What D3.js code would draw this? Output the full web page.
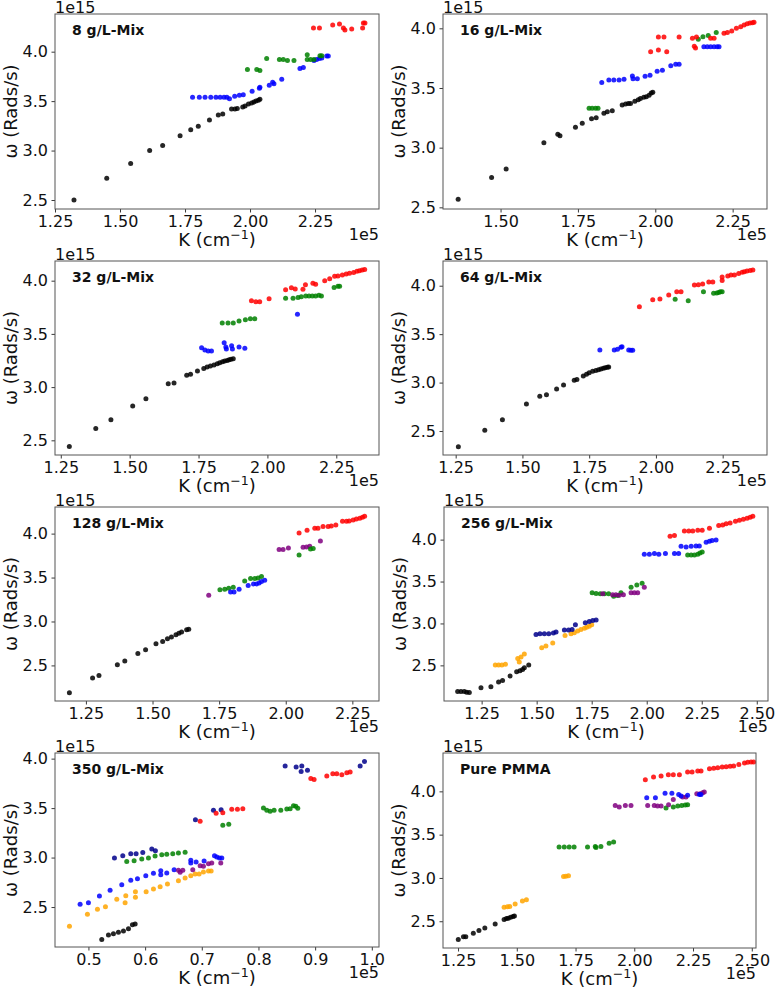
<!DOCTYPE html>
<html>
<head>
<meta charset="utf-8">
<script src="https://cdn.jsdelivr.net/npm/d3@7"></script>
<style>
  body { margin: 0; background: #fff; }
  svg { font-family: "DejaVu Sans", sans-serif; }
</style>
</head>
<body>
<div id="container"></div>
<script>
// K in units of 1e5 cm^-1, omega in units of 1e15 rad/s
const mix8Black = [[1.323,2.50],[1.449,2.72],[1.541,2.87],[1.614,3.00],[1.664,3.05],[1.731,3.15],[1.772,3.21],[1.801,3.245],[1.844,3.31],[1.878,3.36],[1.895,3.37],[1.929,3.42],[1.942,3.42],[1.951,3.425],[1.972,3.44],[1.981,3.45],[1.994,3.47],[2.006,3.48],[2.015,3.49],[2.023,3.50],[2.032,3.51],[2.038,3.52]];
const mix8Blue = [[1.779,3.538],[1.805,3.538],[1.827,3.538],[1.849,3.538],[1.869,3.538],[1.885,3.538],[1.900,3.538],[1.911,3.538],[1.921,3.525],[1.941,3.55],[1.959,3.56],[1.974,3.565],[2.008,3.60],[2.036,3.63],[2.038,3.64],[2.074,3.66],[2.087,3.69],[2.092,3.675],[2.122,3.72],[2.192,3.83],[2.205,3.84],[2.246,3.91],[2.256,3.92],[2.267,3.93],[2.276,3.935],[2.295,3.956],[2.301,3.956]];
const mix8Green = [[1.990,3.82],[2.026,3.82],[2.038,3.81],[2.064,3.93],[2.113,3.92],[2.128,3.92],[2.144,3.91],[2.169,3.91],[2.220,3.97],[2.220,3.92],[2.233,3.92],[2.246,3.92],[2.269,3.96],[2.276,3.96]];
const mix8Red = [[2.244,4.24],[2.267,4.24],[2.318,4.27],[2.344,4.28],[2.359,4.24],[2.365,4.22],[2.391,4.23],[2.433,4.24],[2.436,4.29],[2.442,4.29]];

const mix16Black = [[1.363,2.567],[1.471,2.751],[1.518,2.821],[1.640,3.042],[1.685,3.112],[1.692,3.100],[1.742,3.170],[1.764,3.204],[1.794,3.243],[1.809,3.251],[1.834,3.288],[1.845,3.300],[1.861,3.310],[1.893,3.358],[1.904,3.366],[1.913,3.369],[1.920,3.369],[1.934,3.388],[1.945,3.402],[1.952,3.411],[1.963,3.422],[1.971,3.427],[1.980,3.439],[1.987,3.458],[1.992,3.464]];
const mix16Green = [[1.786,3.33],[1.796,3.33],[1.807,3.33],[1.815,3.33],[2.139,3.908],[2.154,3.930],[2.171,3.939],[2.197,3.966]];
const mix16Blue = [[1.827,3.547],[1.850,3.567],[1.866,3.567],[1.883,3.567],[1.899,3.573],[1.926,3.600],[1.928,3.578],[1.942,3.578],[1.967,3.598],[1.983,3.606],[2.006,3.640],[2.023,3.648],[2.050,3.687],[2.066,3.698],[2.077,3.698],[2.157,3.846],[2.168,3.846],[2.179,3.846],[2.190,3.846],[2.200,3.846],[2.206,3.846]];
const mix16Red = [[1.985,3.804],[2.010,3.818],[2.037,3.804],[2.010,3.927],[2.028,3.927],[2.077,3.927],[2.120,3.916],[2.133,3.927],[2.126,3.850],[2.130,3.835],[2.179,3.916],[2.190,3.916],[2.222,3.958],[2.233,3.966],[2.247,3.978],[2.262,4.000],[2.276,4.014],[2.287,4.028],[2.297,4.039],[2.306,4.045],[2.314,4.047],[2.319,4.050]];

const mix32Black = [[1.281,2.443],[1.377,2.610],[1.432,2.694],[1.511,2.822],[1.559,2.891],[1.640,3.032],[1.661,3.039],[1.707,3.111],[1.721,3.120],[1.746,3.151],[1.769,3.176],[1.781,3.189],[1.793,3.198],[1.806,3.208],[1.818,3.220],[1.827,3.230],[1.837,3.239],[1.845,3.245],[1.854,3.251],[1.861,3.258],[1.868,3.261],[1.876,3.267]];
const mix32Blue = [[1.761,3.370],[1.773,3.349],[1.785,3.339],[1.797,3.339],[1.843,3.417],[1.849,3.377],[1.851,3.358],[1.870,3.389],[1.873,3.358],[1.897,3.377],[1.918,3.364],[2.109,3.684]];
const mix32Green = [[1.836,3.602],[1.857,3.602],[1.876,3.602],[1.897,3.621],[1.920,3.634],[1.938,3.643],[1.954,3.643],[2.066,3.834],[2.093,3.834],[2.111,3.843],[2.123,3.850],[2.139,3.856],[2.151,3.856],[2.163,3.856],[2.175,3.856],[2.187,3.862],[2.196,3.856],[2.242,3.937],[2.256,3.947],[2.262,3.947]];
const mix32Red = [[1.942,3.812],[1.958,3.803],[1.972,3.803],[2.006,3.831],[2.066,3.915],[2.087,3.934],[2.101,3.922],[2.129,3.919],[2.138,3.962],[2.165,3.975],[2.175,3.966],[2.208,4.000],[2.226,4.019],[2.244,4.041],[2.256,4.044],[2.272,4.053],[2.286,4.063],[2.298,4.069],[2.313,4.078],[2.325,4.088],[2.334,4.094],[2.344,4.100],[2.353,4.106]];

const mix64Black = [[1.260,2.338],[1.359,2.507],[1.425,2.617],[1.515,2.779],[1.565,2.858],[1.590,2.875],[1.628,2.934],[1.654,2.975],[1.694,3.023],[1.704,3.033],[1.728,3.068],[1.740,3.085],[1.750,3.102],[1.763,3.116],[1.775,3.126],[1.785,3.133],[1.794,3.140],[1.803,3.147],[1.810,3.154],[1.818,3.157],[1.823,3.161]];
const mix64Blue = [[1.790,3.336],[1.844,3.336],[1.856,3.343],[1.869,3.364],[1.873,3.370],[1.898,3.336],[1.906,3.333],[1.913,3.333]];
const mix64Red = [[1.938,3.783],[1.988,3.856],[2.015,3.862],[2.048,3.904],[2.078,3.938],[2.094,3.938],[2.144,4.007],[2.159,4.010],[2.175,4.017],[2.198,4.038],[2.213,4.038],[2.248,4.089],[2.248,4.055],[2.269,4.100],[2.281,4.110],[2.294,4.110],[2.310,4.127],[2.323,4.138],[2.331,4.144],[2.341,4.151],[2.353,4.158],[2.363,4.162]];
const mix64Green = [[2.072,3.859],[2.121,3.845],[2.178,3.938],[2.216,3.921],[2.228,3.924],[2.235,3.931],[2.241,3.938],[2.248,3.938]];

const mix128Black = [[1.188,2.189],[1.275,2.356],[1.299,2.386],[1.368,2.508],[1.396,2.549],[1.445,2.636],[1.474,2.678],[1.513,2.746],[1.538,2.773],[1.556,2.803],[1.571,2.822],[1.588,2.848],[1.599,2.867],[1.609,2.879],[1.628,2.905],[1.636,2.913]];
const mix128Purple = [[1.711,3.299],[1.975,3.818],[1.990,3.818],[2.010,3.837],[2.065,3.845],[2.078,3.848],[2.090,3.856],[2.130,3.917]];
const mix128Green = [[1.753,3.360],[1.771,3.367],[1.786,3.379],[1.803,3.390],[1.846,3.462],[1.868,3.489],[1.884,3.489],[1.896,3.496],[1.909,3.511],[2.050,3.758],[2.093,3.826],[2.103,3.830]];
const mix128Blue = [[1.793,3.337],[1.806,3.337],[1.825,3.367],[1.859,3.409],[1.879,3.428],[1.890,3.428],[1.900,3.439],[1.909,3.455],[1.921,3.470]];
const mix128Red = [[2.050,4.008],[2.080,4.038],[2.109,4.061],[2.121,4.061],[2.140,4.080],[2.159,4.080],[2.171,4.087],[2.188,4.098],[2.213,4.140],[2.228,4.140],[2.238,4.144],[2.253,4.155],[2.265,4.167],[2.278,4.174],[2.288,4.186],[2.296,4.197]];

const mix256Black = [[1.141,2.187],[1.156,2.187],[1.171,2.187],[1.182,2.179],[1.194,2.175],[1.247,2.234],[1.292,2.246],[1.327,2.302],[1.345,2.321],[1.379,2.373],[1.409,2.425],[1.424,2.437],[1.436,2.452],[1.444,2.472],[1.464,2.504]];
const mix256Orange = [[1.312,2.504],[1.327,2.504],[1.342,2.504],[1.358,2.512],[1.414,2.583],[1.429,2.599],[1.421,2.540],[1.444,2.635],[1.523,2.710],[1.542,2.730],[1.573,2.766],[1.629,2.857],[1.656,2.877],[1.671,2.889],[1.686,2.909],[1.701,2.929],[1.717,2.944],[1.727,2.956],[1.739,2.968],[1.750,2.984]];
const mix256Navy = [[1.497,2.869],[1.515,2.877],[1.535,2.877],[1.555,2.877],[1.576,2.885],[1.588,2.897],[1.626,2.921],[1.645,2.921],[1.661,2.929],[1.676,2.984],[1.721,3.008],[1.739,3.024],[1.755,3.036],[1.770,3.040]];
const mix256Green = [[1.752,3.365],[1.770,3.357],[1.789,3.353],[1.808,3.353],[1.827,3.353],[1.850,3.325],[1.868,3.333],[1.883,3.365],[1.929,3.433],[1.955,3.460],[1.979,3.480],[2.186,3.817],[2.202,3.817],[2.217,3.817],[2.232,3.825],[2.242,3.841],[2.252,3.853]];
const mix256Purple = [[1.800,3.353],[1.845,3.341],[1.860,3.341],[1.875,3.337],[1.894,3.341],[1.929,3.365],[1.944,3.365],[1.959,3.365],[1.989,3.433]];
const mix256Blue = [[1.989,3.825],[2.012,3.825],[2.035,3.833],[2.055,3.825],[2.085,3.833],[2.126,3.833],[2.145,3.833],[2.156,3.921],[2.179,3.913],[2.202,3.921],[2.224,3.925],[2.239,3.925],[2.270,3.968],[2.285,3.980],[2.297,3.988],[2.315,3.996]];
const mix256Red = [[2.106,4.040],[2.126,4.048],[2.171,4.103],[2.191,4.103],[2.209,4.103],[2.232,4.111],[2.252,4.111],[2.285,4.135],[2.327,4.167],[2.345,4.175],[2.361,4.190],[2.379,4.198],[2.403,4.218],[2.421,4.230],[2.439,4.242],[2.456,4.254],[2.470,4.266],[2.482,4.278]];

const mix350Black = [[0.5235,2.173],[0.5353,2.217],[0.5441,2.231],[0.5529,2.244],[0.5618,2.258],[0.5706,2.281],[0.5776,2.322],[0.5824,2.328]];
const mix350Orange = [[0.4665,2.305],[0.4982,2.426],[0.5159,2.477],[0.5300,2.504],[0.5500,2.578],[0.5659,2.615],[0.5647,2.544],[0.5829,2.655],[0.5829,2.598],[0.6018,2.655],[0.6147,2.682],[0.6265,2.706],[0.6394,2.733],[0.6588,2.766],[0.6706,2.793],[0.6806,2.817],[0.6882,2.834],[0.6953,2.834],[0.7029,2.854],[0.7118,2.864],[0.7165,2.864]];
const mix350Blue = [[0.4853,2.527],[0.5000,2.544],[0.5194,2.611],[0.5382,2.669],[0.5588,2.726],[0.5747,2.770],[0.5865,2.787],[0.6012,2.817],[0.6147,2.841],[0.6276,2.868],[0.6276,2.827],[0.6382,2.844],[0.6512,2.878],[0.6806,2.945],[0.6806,2.972],[0.6900,2.955],[0.7041,2.965],[0.7224,3.019],[0.7265,3.006],[0.7312,2.996],[0.7353,2.996]];
const mix350Navy = [[0.5459,2.996],[0.5606,3.019],[0.5747,3.039],[0.5841,3.039],[0.5959,3.050],[0.6118,3.087],[0.6182,3.070],[0.6888,3.383],[0.7206,3.478],[0.7341,3.484],[0.8471,3.926],[0.8665,3.916],[0.8765,3.926],[0.8753,3.869],[0.8865,3.882],[0.9794,3.926],[0.9871,3.970]];
const mix350Green = [[0.5676,2.959],[0.5806,2.969],[0.5941,2.986],[0.6059,2.996],[0.6176,3.016],[0.6294,3.029],[0.6382,3.033],[0.6488,3.039],[0.6588,3.046],[0.6706,3.053],[0.7371,3.326],[0.7476,3.336],[0.8088,3.501],[0.8147,3.478],[0.8206,3.468],[0.8276,3.478],[0.8394,3.478],[0.8500,3.491],[0.8559,3.494],[0.8618,3.525],[0.8659,3.518],[0.8694,3.498]];
const mix350Red = [[0.6971,3.366],[0.7253,3.447],[0.7371,3.454],[0.7529,3.488],[0.7629,3.488],[0.7724,3.494],[0.8924,3.798],[0.8982,3.788],[0.9206,3.825],[0.9312,3.848],[0.9382,3.848],[0.9471,3.838],[0.9559,3.858],[0.9618,3.865]];
const mix350Purple = [[0.6588,2.871],[0.6618,2.851],[0.6665,2.871],[0.6841,2.878],[0.6971,2.918],[0.7029,2.911],[0.7118,2.938],[0.7176,2.945],[0.7335,2.945]];

const pmmaBlack = [[1.251,2.288],[1.273,2.322],[1.283,2.322],[1.315,2.361],[1.339,2.392],[1.364,2.423],[1.408,2.469],[1.446,2.519],[1.456,2.531],[1.464,2.535],[1.474,2.546],[1.484,2.554],[1.490,2.562]];
const pmmaOrange = [[1.446,2.662],[1.460,2.666],[1.470,2.669],[1.493,2.700],[1.524,2.735],[1.541,2.747],[1.699,3.017],[1.709,3.020],[1.720,3.024]];
const pmmaGreen = [[1.680,3.356],[1.702,3.356],[1.723,3.356],[1.744,3.356],[1.801,3.356],[1.834,3.364],[1.837,3.352],[1.858,3.364],[1.893,3.402],[1.912,3.414],[2.135,3.807],[2.166,3.819],[2.185,3.830],[2.202,3.838],[2.217,3.842],[2.227,3.846]];
const pmmaPurple = [[1.919,3.838],[1.936,3.819],[1.962,3.838],[1.986,3.838],[2.057,3.838],[2.085,3.838],[2.099,3.830],[2.114,3.830],[2.146,3.846],[2.166,3.907],[2.206,3.934],[2.220,3.934],[2.266,3.973],[2.280,3.973],[2.291,3.985],[2.298,3.992]];
const pmmaBlue = [[2.053,3.927],[2.090,3.927],[2.131,3.977],[2.160,3.977],[2.189,3.965],[2.199,3.946],[2.227,3.954],[2.277,3.965],[2.284,3.965]];
const pmmaRed = [[2.047,4.135],[2.082,4.166],[2.114,4.177],[2.145,4.193],[2.166,4.193],[2.192,4.193],[2.227,4.224],[2.246,4.224],[2.270,4.235],[2.284,4.235],[2.320,4.262],[2.338,4.266],[2.355,4.274],[2.374,4.282],[2.391,4.285],[2.408,4.289],[2.423,4.293],[2.445,4.309],[2.469,4.328],[2.483,4.336],[2.497,4.339],[2.508,4.339]];

const titles = ['8 g/L-Mix', '16 g/L-Mix', '32 g/L-Mix', '64 g/L-Mix', '128 g/L-Mix', '256 g/L-Mix', '350 g/L-Mix', 'Pure PMMA'];
const xLimits = [[1.25,2.496],[1.314,2.361],[1.229,2.405],[1.2025,2.416],[1.134,2.35],[1.079,2.551],[0.441,1.0127],[1.186,2.518]];
const yLimits = [[2.409,4.381],[2.486,4.12],[2.362,4.185],[2.2525,4.255],[2.095,4.303],[2.075,4.389],[2.096,4.057],[2.191,4.443]];
const xTickStep = [0.25, 0.25, 0.25, 0.25, 0.25, 0.25, 0.1, 0.25];

const colors = {
    black: '#000000', blue: '#0000ff', green: '#008000', red: '#ff0000',
    purple: '#800080', orange: '#ffa500', navy: '#00008b'
};

const panelSeries = [
    [['black', mix8Black], ['blue', mix8Blue], ['green', mix8Green], ['red', mix8Red]],
    [['black', mix16Black], ['green', mix16Green], ['blue', mix16Blue], ['red', mix16Red]],
    [['black', mix32Black], ['blue', mix32Blue], ['green', mix32Green], ['red', mix32Red]],
    [['black', mix64Black], ['blue', mix64Blue], ['red', mix64Red], ['green', mix64Green]],
    [['black', mix128Black], ['purple', mix128Purple], ['green', mix128Green], ['blue', mix128Blue], ['red', mix128Red]],
    [['black', mix256Black], ['orange', mix256Orange], ['navy', mix256Navy], ['green', mix256Green], ['purple', mix256Purple], ['blue', mix256Blue], ['red', mix256Red]],
    [['black', mix350Black], ['orange', mix350Orange], ['blue', mix350Blue], ['navy', mix350Navy], ['green', mix350Green], ['red', mix350Red], ['purple', mix350Purple]],
    [['black', pmmaBlack], ['orange', pmmaOrange], ['green', pmmaGreen], ['purple', pmmaPurple], ['blue', pmmaBlue], ['red', pmmaRed]]
];

// axes boxes: left, top, width, height
const boxes = [
    [55, 14, 324, 195], [443, 14, 324, 195],
    [55, 261, 324, 194], [443, 261, 324, 194],
    [55, 507, 324, 194], [444, 507, 324, 194],
    [55, 753, 324, 194], [443, 753, 313, 195]
];

const svg = d3.select('#container').append('svg')
    .attr('width', 776)
    .attr('height', 992)
    .attr('viewBox', '0 0 776 992');

function ticksIn(lim, step) {
    let lo = Math.ceil(lim[0] / step - 1e-6);
    let hi = Math.floor(lim[1] / step + 1e-6);
    return d3.range(lo, hi + 1).map(k => +(k * step).toFixed(4));
}

boxes.forEach((b, i) => {
    let [left, top, w, h] = b;
    let x = d3.scaleLinear().domain(xLimits[i]).range([0, w]);
    let y = d3.scaleLinear().domain(yLimits[i]).range([h, 0]);

    let g = svg.append('g').attr('transform', `translate(${left},${top})`);

    let xAxis = d3.axisBottom(x)
        .tickValues(ticksIn(xLimits[i], xTickStep[i]))
        .tickFormat(d3.format(xTickStep[i] < 0.2 ? '.1f' : '.2f'))
        .tickSize(3.5)
        .tickPadding(3.5);
    let yAxis = d3.axisLeft(y)
        .tickValues(ticksIn(yLimits[i], 0.5))
        .tickFormat(d3.format('.1f'))
        .tickSize(3.5)
        .tickPadding(3.5);

    let gx = g.append('g').attr('transform', `translate(0,${h})`).call(xAxis);
    let gy = g.append('g').call(yAxis);
    [gx, gy].forEach(a => {
        a.select('.domain').remove();
        a.selectAll('line').attr('stroke', '#222').attr('stroke-width', 0.9);
        a.selectAll('text')
            .attr('fill', '#111')
            .style('font-size', '16px')
            .style('font-family', '"DejaVu Sans", sans-serif');
    });

    // points
    panelSeries[i].forEach(([key, pts]) => {
        g.append('g')
            .selectAll('circle')
            .data(pts)
            .join('circle')
            .attr('cx', d => x(d[0]))
            .attr('cy', d => y(d[1]))
            .attr('r', 2.5)
            .attr('fill', colors[key])
            .attr('fill-opacity', 0.85);
    });

    g.append('rect')
        .attr('width', w)
        .attr('height', h)
        .attr('fill', 'none')
        .attr('stroke', '#555')
        .attr('stroke-width', 1);

    g.append('text')
        .attr('x', 17)
        .attr('y', 21)
        .attr('font-size', 14)
        .attr('font-weight', 'bold')
        .attr('fill', '#111')
        .text(titles[i]);

    g.append('text')
        .attr('x', 0)
        .attr('y', -1.5)
        .attr('font-size', 16)
        .attr('fill', '#111')
        .text('1e15');

    g.append('text')
        .attr('x', w)
        .attr('y', h + 31)
        .attr('text-anchor', 'end')
        .attr('font-size', 16)
        .attr('fill', '#111')
        .text('1e5');

    let xl = g.append('text')
        .attr('x', w / 2)
        .attr('y', h + 37)
        .attr('text-anchor', 'middle')
        .attr('font-size', 18)
        .attr('fill', '#111');
    xl.append('tspan').text('K (cm');
    xl.append('tspan').attr('dy', -7).attr('font-size', 12.6).text('\u22121');
    xl.append('tspan').attr('dy', 7).text(')');

    g.append('text')
        .attr('transform', `translate(-38,${h / 2}) rotate(-90)`)
        .attr('text-anchor', 'middle')
        .attr('font-size', 18)
        .attr('fill', '#111')
        .text('\u03c9 (Rads/s)');
});
</script>
</body>
</html>
